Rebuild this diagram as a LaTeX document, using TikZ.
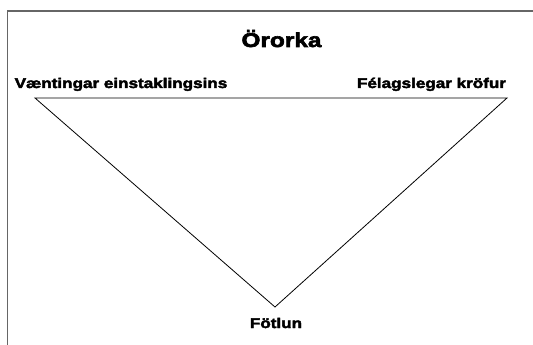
\documentclass[tikz,border=0pt]{standalone}
\usepackage{fontspec}
\setmainfont{Liberation Sans}[BoldFeatures={FakeBold=3,FakeStretch=1.22}]
\tikzset{
  label text/.style={font=\bfseries\fontsize{14}{16}\selectfont, inner sep=0pt, anchor=base},
  title text/.style={font=\bfseries\fontsize{20}{22}\selectfont, inner sep=0pt, anchor=base},
  frame line/.style={draw=black!60, line width=1.3pt}
}
\begin{document}
\begin{tikzpicture}[x=1pt,y=-1pt]
    \useasboundingbox (0,0) rectangle (533,345);
    % Labels
    \node[title text] (title) at (281.5,47) {Örorka};
    \node[label text] (wish) at (121,88) {Væntingar einstaklingsins};
    \node[label text] (demand) at (431.5,88) {Félagslegar kröfur};
    \node[label text] (disab) at (276,328) {Fötlun};
    % Triangle
    \coordinate (tl) at (35,98);
    \coordinate (tr) at (507,98);
    \coordinate (bt) at (275,307);
    \draw[line width=0.8pt] (tl) -- (tr) -- (bt) -- cycle;
    % Frame
    \coordinate (fa) at (7.5,345);
    \coordinate (fb) at (7.5,11);
    \coordinate (fc) at (533,11);
    \draw[frame line] (fa) -- (fb) -- (fc);
\end{tikzpicture}
\end{document}
